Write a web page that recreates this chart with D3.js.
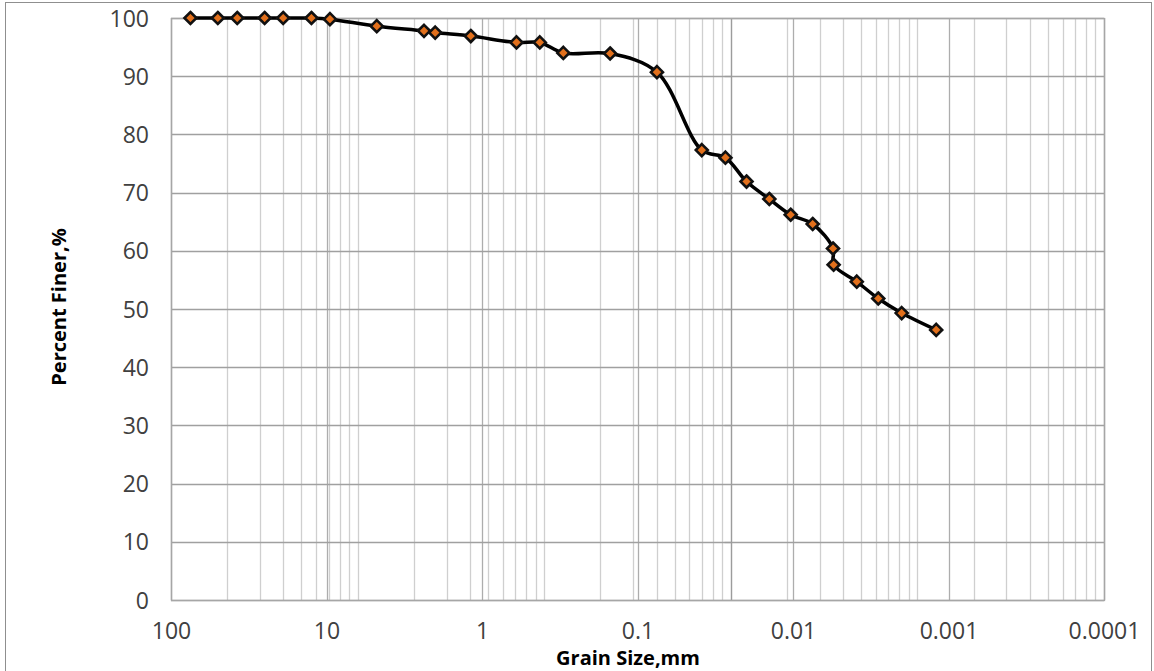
<!DOCTYPE html>
<html>
<head>
<meta charset="utf-8">
<script src="https://cdn.jsdelivr.net/npm/d3@7"></script>
<style>
  body { margin: 0; background: #fff; }
  svg { display: block; }
  .tick text { font-family: "Open Sans", sans-serif; fill: #404040; }
</style>
</head>
<body>
<svg id="chart" width="1154" height="671"></svg>
<script>
// sieve + hydrometer results (mm, % finer)
var grainSize = [75, 50, 37.5, 25, 19, 12.5, 9.5, 4.75, 2.36, 2.0, 1.18, 0.6, 0.425, 0.3, 0.15, 0.075,
  0.0386, 0.0272, 0.0199, 0.0142, 0.01035, 0.00747, 0.00553, 0.00548, 0.00389, 0.00283, 0.0020, 0.0012];
var percentFiner = [100, 100, 100, 100, 100, 100, 99.8, 98.6, 97.8, 97.5, 96.9, 95.8, 95.8, 94.0, 93.9, 90.7,
  77.3, 76.0, 71.9, 68.9, 66.2, 64.6, 60.4, 57.6, 54.7, 51.8, 49.3, 46.4];

var xTicks = [100, 10, 1, 0.1, 0.01, 0.001, 0.0001];
var xTickLabels = ["100", "10", "1", "0.1", "0.01", "0.001", "0.0001"];
var yTicks = [0, 10, 20, 30, 40, 50, 60, 70, 80, 90, 100];
var midAxisTicks = [10, 30, 50, 70, 90];

var svg = d3.select("#chart");
var plotLeft = 171, plotRight = 1104, plotTop = 18, plotBottom = 600;

var x = d3.scaleLog().domain([100, 0.0001]).range([plotLeft, plotRight]);
var y = d3.scaleLinear().domain([0, 100]).range([plotBottom, plotTop]);
// the light minor grid runs on its own 5-decade log axis
var xGrid = d3.scaleLog().domain([1, 100000]).range([plotLeft, plotRight]);

// chart frame
svg.append("rect")
  .attr("x", 5.5).attr("y", 2.5)
  .attr("width", 1146).attr("height", 700)
  .attr("fill", "none")
  .attr("stroke", "#8f8f8f");

// minor vertical gridlines
svg.append("g")
  .selectAll("line")
  .data(xGrid.ticks())
  .join("line")
  .attr("x1", d => Math.round(xGrid(d)) + 0.5)
  .attr("x2", d => Math.round(xGrid(d)) + 0.5)
  .attr("y1", plotTop).attr("y2", plotBottom)
  .attr("stroke", "#cfcfcf")
  .attr("stroke-width", 1.3);

// major vertical gridlines
svg.append("g")
  .selectAll("line")
  .data(xTicks)
  .join("line")
  .attr("x1", d => Math.round(x(d)) + 0.5)
  .attr("x2", d => Math.round(x(d)) + 0.5)
  .attr("y1", plotTop).attr("y2", plotBottom)
  .attr("stroke", "#adadad")
  .attr("stroke-width", 1.3);

// horizontal gridlines
svg.append("g")
  .selectAll("line")
  .data(yTicks)
  .join("line")
  .attr("x1", plotLeft).attr("x2", plotRight)
  .attr("y1", d => Math.round(y(d)) + 0.5)
  .attr("y2", d => Math.round(y(d)) + 0.5)
  .attr("stroke", "#a0a0a0")
  .attr("stroke-width", 1.3);

// vertical axis line in the middle of the plot
var midX = Math.round(xGrid(1000)) + 0.5;
svg.append("line")
  .attr("x1", midX).attr("x2", midX)
  .attr("y1", plotTop).attr("y2", plotBottom)
  .attr("stroke", "#9c9c9c")
  .attr("stroke-width", 1.3);
svg.append("g")
  .selectAll("line")
  .data(midAxisTicks)
  .join("line")
  .attr("x1", midX - 7).attr("x2", midX)
  .attr("y1", d => Math.round(y(d)) + 0.5)
  .attr("y2", d => Math.round(y(d)) + 0.5)
  .attr("stroke", "#9c9c9c")
  .attr("stroke-width", 1.3);

// plot border
svg.append("rect")
  .attr("x", plotLeft + 0.5).attr("y", plotTop + 0.5)
  .attr("width", plotRight - plotLeft).attr("height", plotBottom - plotTop)
  .attr("fill", "none")
  .attr("stroke", "#a6a6a6")
  .attr("stroke-width", 1.3);

// axes (labels only)
var yAxis = svg.append("g")
  .attr("transform", "translate(" + (plotLeft - 19) + ",0)")
  .call(d3.axisLeft(y).tickValues(yTicks).tickSize(0).tickFormat(d3.format("d")));
yAxis.select(".domain").remove();
yAxis.selectAll("text").attr("font-size", 23).attr("dy", "0.35em");

var xAxis = svg.append("g")
  .attr("transform", "translate(0," + plotBottom + ")")
  .call(d3.axisBottom(x).tickValues(xTicks).tickSize(0).tickFormat((d, i) => xTickLabels[i]));
xAxis.select(".domain").remove();
xAxis.selectAll("text").attr("font-size", 23).attr("y", 23);

// axis titles
svg.append("text")
  .attr("x", 628).attr("y", 665)
  .attr("text-anchor", "middle")
  .attr("font-family", "Open Sans, sans-serif")
  .attr("font-weight", "bold")
  .attr("font-size", 20)
  .attr("fill", "#000")
  .text("Grain Size,mm");

svg.append("text")
  .attr("transform", "translate(66," + 307 + ") rotate(-90)")
  .attr("text-anchor", "middle")
  .attr("font-family", "Open Sans, sans-serif")
  .attr("font-weight", "bold")
  .attr("font-size", 20)
  .attr("fill", "#000")
  .text("Percent Finer,%");

// data
var points = grainSize.map((d, i) => [d, percentFiner[i]]);

var line = d3.line()
  .x(d => x(d[0]))
  .y(d => y(d[1]))
  .curve(d3.curveCatmullRom.alpha(0.5));

svg.append("path")
  .datum(points)
  .attr("d", line)
  .attr("fill", "none")
  .attr("stroke", "#000")
  .attr("stroke-width", 3.5);

svg.append("g")
  .selectAll("path")
  .data(points)
  .join("path")
  .attr("transform", d => "translate(" + x(d[0]) + "," + y(d[1]) + ")")
  .attr("d", "M0,-6L6,0L0,6L-6,0Z")
  .attr("fill", "#E2701C")
  .attr("stroke", "#111")
  .attr("stroke-width", 2.6)
  .attr("stroke-linejoin", "miter");
</script>
</body>
</html>
